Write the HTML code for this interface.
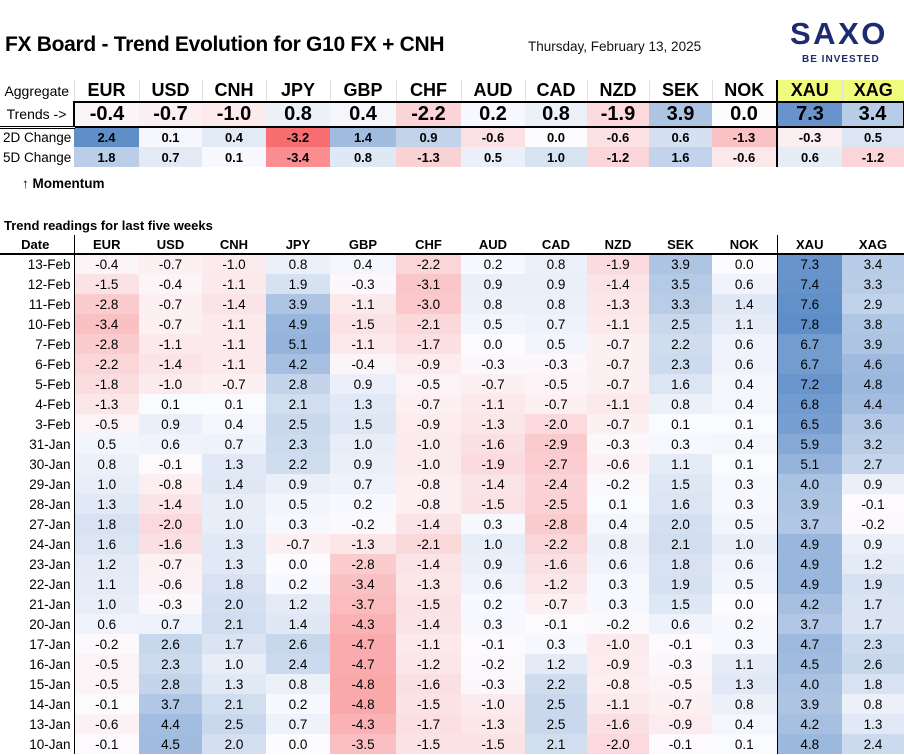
<!DOCTYPE html>
<html><head><meta charset="utf-8">
<style>
*{margin:0;padding:0;box-sizing:border-box}
body{width:904px;height:755px;background:#fff;font-family:"Liberation Sans",Arial,sans-serif;color:#000;position:relative;overflow:hidden}
.abs{position:absolute}
table{border-collapse:collapse;table-layout:fixed;position:absolute;left:0}
td{text-align:center;white-space:nowrap;overflow:hidden;padding:0}
#top{top:80px;width:904px}
#top tr.h td{height:22px;font-weight:bold;font-size:18px;border-left:1px solid #e0e0e0}
#top tr.h td.l{font-size:14px;font-weight:normal;border-left:none}
#top tr.t td{height:25px;font-weight:bold;font-size:20px;border-top:2px solid #000;border-bottom:2px solid #000}
#top tr.t td.l{font-size:14px;font-weight:normal;border-top:none;border-bottom:3px double #000;border-right:2px solid #000}
#top tr.t td:last-child{border-right:2px solid #000}
#top tr.c td{height:20px;font-weight:bold;font-size:13px}
#top tr.c td.l{font-weight:normal;font-size:13.5px;text-align:left;padding-left:3px}
#top td.y{background:#eefb7c}
#top td.x{border-left:2px solid #000 !important}
#bot{top:235px;width:904px}
#bot tr.h td{height:19px;font-weight:bold;font-size:13px;border-bottom:2px solid #000}
#bot tr.r td{height:20px;font-size:13.5px}
#bot td.d{text-align:right;padding-right:3px;border-right:1px solid #000}
#bot tr.h td.d{text-align:center;border-right:1px solid #000}
#bot td.x{border-left:1px solid #000}
</style></head><body>
<div class="abs" style="left:5px;top:33px;font-size:21px;font-weight:bold;letter-spacing:-0.3px">FX Board - Trend Evolution for G10 FX + CNH</div>
<div class="abs" style="left:528px;top:39px;font-size:13.5px;color:#111">Thursday, February 13, 2025</div>
<div class="abs" style="left:790px;top:16px;font-size:31px;font-weight:bold;color:#1e2b6e;letter-spacing:2.5px">SAXO</div>
<div class="abs" style="left:802px;top:54px;font-size:10px;font-weight:bold;color:#1e2b6e;letter-spacing:1px">BE INVESTED</div>

<table id="top">
<colgroup><col style="width:74px"><col style="width:65px"><col style="width:63px"><col style="width:64px"><col style="width:64px"><col style="width:66px"><col style="width:65px"><col style="width:64px"><col style="width:62px"><col style="width:62px"><col style="width:63px"><col style="width:65px"><col style="width:65px"><col style="width:62px"></colgroup>
<tr class="h"><td class="l">Aggregate</td><td>EUR</td><td>USD</td><td>CNH</td><td>JPY</td><td>GBP</td><td>CHF</td><td>AUD</td><td>CAD</td><td>NZD</td><td>SEK</td><td>NOK</td><td class="y x">XAU</td><td class="y">XAG</td></tr>
<tr class="t"><td class="l">Trends -&gt;</td><td class="v">-0.4</td><td class="v">-0.7</td><td class="v">-1.0</td><td class="v">0.8</td><td class="v">0.4</td><td class="v">-2.2</td><td class="v">0.2</td><td class="v">0.8</td><td class="v">-1.9</td><td class="v">3.9</td><td class="v">0.0</td><td class="v x">7.3</td><td class="v">3.4</td></tr>
<tr class="c k26"><td class="l">2D Change</td><td class="v">2.4</td><td class="v">0.1</td><td class="v">0.4</td><td class="v">-3.2</td><td class="v">1.4</td><td class="v">0.9</td><td class="v">-0.6</td><td class="v">0.0</td><td class="v">-0.6</td><td class="v">0.6</td><td class="v">-1.3</td><td class="v x">-0.3</td><td class="v">0.5</td></tr>
<tr class="c k45"><td class="l">5D Change</td><td class="v">1.8</td><td class="v">0.7</td><td class="v">0.1</td><td class="v">-3.4</td><td class="v">0.8</td><td class="v">-1.3</td><td class="v">0.5</td><td class="v">1.0</td><td class="v">-1.2</td><td class="v">1.6</td><td class="v">-0.6</td><td class="v x">0.6</td><td class="v">-1.2</td></tr>
</table>
<div class="abs" style="left:22px;top:176px;font-size:13.5px;font-weight:bold">&#8593; Momentum</div>
<div class="abs" style="left:4px;top:218px;font-size:13px;font-weight:bold">Trend readings for last five weeks</div>

<table id="bot">
<colgroup><col style="width:74px"><col style="width:65px"><col style="width:63px"><col style="width:64px"><col style="width:64px"><col style="width:66px"><col style="width:65px"><col style="width:64px"><col style="width:62px"><col style="width:62px"><col style="width:63px"><col style="width:65px"><col style="width:65px"><col style="width:62px"></colgroup>
<tr class="h"><td class="d">Date</td><td>EUR</td><td>USD</td><td>CNH</td><td>JPY</td><td>GBP</td><td>CHF</td><td>AUD</td><td>CAD</td><td>NZD</td><td>SEK</td><td>NOK</td><td class="x">XAU</td><td>XAG</td></tr>
<tr class="r"><td class="d">13-Feb</td><td>-0.4</td><td>-0.7</td><td>-1.0</td><td>0.8</td><td>0.4</td><td>-2.2</td><td>0.2</td><td>0.8</td><td>-1.9</td><td>3.9</td><td>0.0</td><td class="x">7.3</td><td>3.4</td></tr>
<tr class="r"><td class="d">12-Feb</td><td>-1.5</td><td>-0.4</td><td>-1.1</td><td>1.9</td><td>-0.3</td><td>-3.1</td><td>0.9</td><td>0.9</td><td>-1.4</td><td>3.5</td><td>0.6</td><td class="x">7.4</td><td>3.3</td></tr>
<tr class="r"><td class="d">11-Feb</td><td>-2.8</td><td>-0.7</td><td>-1.4</td><td>3.9</td><td>-1.1</td><td>-3.0</td><td>0.8</td><td>0.8</td><td>-1.3</td><td>3.3</td><td>1.4</td><td class="x">7.6</td><td>2.9</td></tr>
<tr class="r"><td class="d">10-Feb</td><td>-3.4</td><td>-0.7</td><td>-1.1</td><td>4.9</td><td>-1.5</td><td>-2.1</td><td>0.5</td><td>0.7</td><td>-1.1</td><td>2.5</td><td>1.1</td><td class="x">7.8</td><td>3.8</td></tr>
<tr class="r"><td class="d">7-Feb</td><td>-2.8</td><td>-1.1</td><td>-1.1</td><td>5.1</td><td>-1.1</td><td>-1.7</td><td>0.0</td><td>0.5</td><td>-0.7</td><td>2.2</td><td>0.6</td><td class="x">6.7</td><td>3.9</td></tr>
<tr class="r"><td class="d">6-Feb</td><td>-2.2</td><td>-1.4</td><td>-1.1</td><td>4.2</td><td>-0.4</td><td>-0.9</td><td>-0.3</td><td>-0.3</td><td>-0.7</td><td>2.3</td><td>0.6</td><td class="x">6.7</td><td>4.6</td></tr>
<tr class="r"><td class="d">5-Feb</td><td>-1.8</td><td>-1.0</td><td>-0.7</td><td>2.8</td><td>0.9</td><td>-0.5</td><td>-0.7</td><td>-0.5</td><td>-0.7</td><td>1.6</td><td>0.4</td><td class="x">7.2</td><td>4.8</td></tr>
<tr class="r"><td class="d">4-Feb</td><td>-1.3</td><td>0.1</td><td>0.1</td><td>2.1</td><td>1.3</td><td>-0.7</td><td>-1.1</td><td>-0.7</td><td>-1.1</td><td>0.8</td><td>0.4</td><td class="x">6.8</td><td>4.4</td></tr>
<tr class="r"><td class="d">3-Feb</td><td>-0.5</td><td>0.9</td><td>0.4</td><td>2.5</td><td>1.5</td><td>-0.9</td><td>-1.3</td><td>-2.0</td><td>-0.7</td><td>0.1</td><td>0.1</td><td class="x">6.5</td><td>3.6</td></tr>
<tr class="r"><td class="d">31-Jan</td><td>0.5</td><td>0.6</td><td>0.7</td><td>2.3</td><td>1.0</td><td>-1.0</td><td>-1.6</td><td>-2.9</td><td>-0.3</td><td>0.3</td><td>0.4</td><td class="x">5.9</td><td>3.2</td></tr>
<tr class="r"><td class="d">30-Jan</td><td>0.8</td><td>-0.1</td><td>1.3</td><td>2.2</td><td>0.9</td><td>-1.0</td><td>-1.9</td><td>-2.7</td><td>-0.6</td><td>1.1</td><td>0.1</td><td class="x">5.1</td><td>2.7</td></tr>
<tr class="r"><td class="d">29-Jan</td><td>1.0</td><td>-0.8</td><td>1.4</td><td>0.9</td><td>0.7</td><td>-0.8</td><td>-1.4</td><td>-2.4</td><td>-0.2</td><td>1.5</td><td>0.3</td><td class="x">4.0</td><td>0.9</td></tr>
<tr class="r"><td class="d">28-Jan</td><td>1.3</td><td>-1.4</td><td>1.0</td><td>0.5</td><td>0.2</td><td>-0.8</td><td>-1.5</td><td>-2.5</td><td>0.1</td><td>1.6</td><td>0.3</td><td class="x">3.9</td><td>-0.1</td></tr>
<tr class="r"><td class="d">27-Jan</td><td>1.8</td><td>-2.0</td><td>1.0</td><td>0.3</td><td>-0.2</td><td>-1.4</td><td>0.3</td><td>-2.8</td><td>0.4</td><td>2.0</td><td>0.5</td><td class="x">3.7</td><td>-0.2</td></tr>
<tr class="r"><td class="d">24-Jan</td><td>1.6</td><td>-1.6</td><td>1.3</td><td>-0.7</td><td>-1.3</td><td>-2.1</td><td>1.0</td><td>-2.2</td><td>0.8</td><td>2.1</td><td>1.0</td><td class="x">4.9</td><td>0.9</td></tr>
<tr class="r"><td class="d">23-Jan</td><td>1.2</td><td>-0.7</td><td>1.3</td><td>0.0</td><td>-2.8</td><td>-1.4</td><td>0.9</td><td>-1.6</td><td>0.6</td><td>1.8</td><td>0.6</td><td class="x">4.9</td><td>1.2</td></tr>
<tr class="r"><td class="d">22-Jan</td><td>1.1</td><td>-0.6</td><td>1.8</td><td>0.2</td><td>-3.4</td><td>-1.3</td><td>0.6</td><td>-1.2</td><td>0.3</td><td>1.9</td><td>0.5</td><td class="x">4.9</td><td>1.9</td></tr>
<tr class="r"><td class="d">21-Jan</td><td>1.0</td><td>-0.3</td><td>2.0</td><td>1.2</td><td>-3.7</td><td>-1.5</td><td>0.2</td><td>-0.7</td><td>0.3</td><td>1.5</td><td>0.0</td><td class="x">4.2</td><td>1.7</td></tr>
<tr class="r"><td class="d">20-Jan</td><td>0.6</td><td>0.7</td><td>2.1</td><td>1.4</td><td>-4.3</td><td>-1.4</td><td>0.3</td><td>-0.1</td><td>-0.2</td><td>0.6</td><td>0.2</td><td class="x">3.7</td><td>1.7</td></tr>
<tr class="r"><td class="d">17-Jan</td><td>-0.2</td><td>2.6</td><td>1.7</td><td>2.6</td><td>-4.7</td><td>-1.1</td><td>-0.1</td><td>0.3</td><td>-1.0</td><td>-0.1</td><td>0.3</td><td class="x">4.7</td><td>2.3</td></tr>
<tr class="r"><td class="d">16-Jan</td><td>-0.5</td><td>2.3</td><td>1.0</td><td>2.4</td><td>-4.7</td><td>-1.2</td><td>-0.2</td><td>1.2</td><td>-0.9</td><td>-0.3</td><td>1.1</td><td class="x">4.5</td><td>2.6</td></tr>
<tr class="r"><td class="d">15-Jan</td><td>-0.5</td><td>2.8</td><td>1.3</td><td>0.8</td><td>-4.8</td><td>-1.6</td><td>-0.3</td><td>2.2</td><td>-0.8</td><td>-0.5</td><td>1.3</td><td class="x">4.0</td><td>1.8</td></tr>
<tr class="r"><td class="d">14-Jan</td><td>-0.1</td><td>3.7</td><td>2.1</td><td>0.2</td><td>-4.8</td><td>-1.5</td><td>-1.0</td><td>2.5</td><td>-1.1</td><td>-0.7</td><td>0.8</td><td class="x">3.9</td><td>0.8</td></tr>
<tr class="r"><td class="d">13-Jan</td><td>-0.6</td><td>4.4</td><td>2.5</td><td>0.7</td><td>-4.3</td><td>-1.7</td><td>-1.3</td><td>2.5</td><td>-1.6</td><td>-0.9</td><td>0.4</td><td class="x">4.2</td><td>1.3</td></tr>
<tr class="r"><td class="d">10-Jan</td><td>-0.1</td><td>4.5</td><td>2.0</td><td>0.0</td><td>-3.5</td><td>-1.5</td><td>-1.5</td><td>2.1</td><td>-2.0</td><td>-0.1</td><td>0.1</td><td class="x">4.8</td><td>2.4</td></tr>
</table>
<script>
function col(v,sp,sn){var s=v<0?sn:sp;var t=Math.min(Math.abs(v)/s,1),w=[252,252,255],e=v<0?[248,105,107]:[90,138,198];
return 'rgb('+w.map(function(a,i){return Math.round(a+(e[i]-a)*t)}).join(',')+')';}
function paint(cells,sp,sn){for(var i=0;i<cells.length;i++){var v=parseFloat(cells[i].textContent);if(!isNaN(v))cells[i].style.background=col(v,sp,sn);}}
paint(document.querySelectorAll('#top tr.t td.v'),8,8);
paint(document.querySelectorAll('#top tr.k26 td.v'),2.5,3.3);
paint(document.querySelectorAll('#top tr.k45 td.v'),4.5,4.5);
paint(document.querySelectorAll('#bot tr.r td:not(.d)'),8,8.5);
</script>
</body></html>
